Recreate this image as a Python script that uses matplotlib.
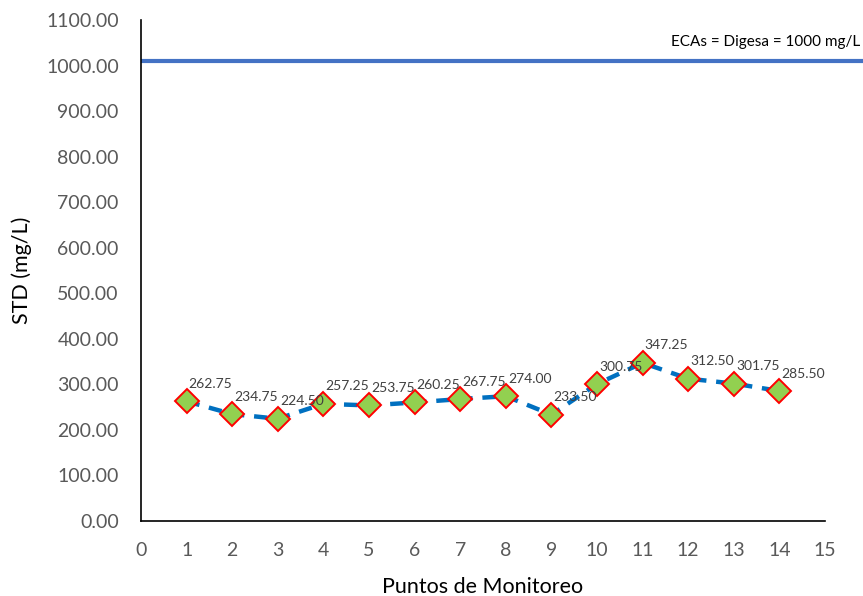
import matplotlib
matplotlib.use("Agg")
import matplotlib.pyplot as plt

puntos = list(range(1, 15))
std_vals = [262.75, 234.75, 224.50, 257.25, 253.75, 260.25, 267.75, 274.00,
            233.50, 300.75, 347.25, 312.50, 301.75, 285.50]
eca_x = [0, 16]
eca_y = [1010, 1010]
eca_label = "ECAs = Digesa = 1000 mg/L"
xticks = list(range(0, 16))
yticks = [0, 100, 200, 300, 400, 500, 600, 700, 800, 900, 1000, 1100]

plt.rcParams['font.family'] = ['Lato', 'DejaVu Sans']
fig = plt.figure(figsize=(8.63, 5.96), dpi=100)
ax = fig.add_axes([141/863, 1-521/596, (825-141)/863, (521-20)/596])

ax.plot(eca_x, eca_y, color='#4472C4', lw=3, clip_on=False, solid_capstyle='butt')
ax.plot(puntos, std_vals, color='#0070C0', lw=3.2, ls=(0, (3, 2.2)),
        marker='D', markersize=12.5, markerfacecolor='#92D050',
        markeredgecolor='#FF0000', markeredgewidth=1.4)
for x, y in zip(puntos, std_vals):
    ax.annotate(f"{y:.2f}", (x, y), xytext=(1.5, 12.5), textcoords='offset points',
                ha='left', va='center', fontsize=10, color='#404040')

fig.text(860/863, 1-42/596, eca_label, ha='right', va='center', fontsize=11, color='black')

ax.set_xlim(0, 15)
ax.set_ylim(0, 1100)
ax.set_xticks(xticks)
ax.set_yticks(yticks)
ax.set_yticklabels([f"{v:.2f}" for v in yticks])
ax.tick_params(length=0, labelsize=14, colors='#595959')
ax.tick_params(axis='y', pad=16)
ax.tick_params(axis='x', pad=15)
for s in ['top', 'right']:
    ax.spines[s].set_visible(False)
for s in ['left', 'bottom']:
    ax.spines[s].set_color('black')
    ax.spines[s].set_linewidth(1.2)
ax.set_xlabel("Puntos de Monitoreo", fontsize=15.5, color='black', va='center')
ax.xaxis.set_label_coords(0.5, (521 - 587) / 501)
ax.set_ylabel("STD (mg/L)", fontsize=15.5, color='black', labelpad=10)

fig.savefig("out.png", dpi=100)
